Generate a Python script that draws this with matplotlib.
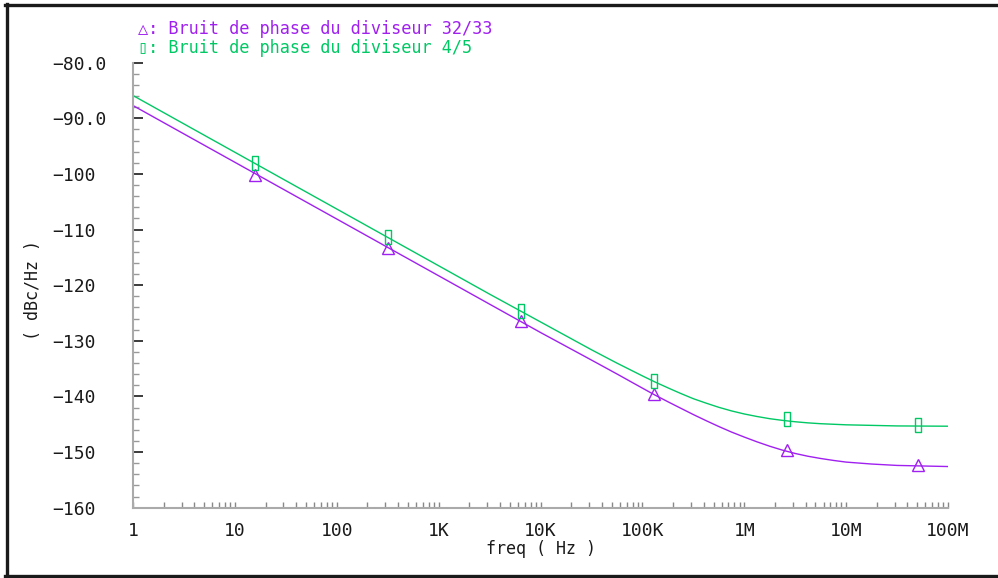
"""Phase noise of the 32/33 and 4/5 dividers, Cadence-style plot."""
import matplotlib
matplotlib.use("Agg")
import matplotlib.pyplot as plt
from matplotlib.lines import Line2D
from matplotlib.ticker import FixedLocator, LogLocator, NullFormatter

plt.rcParams["font.family"] = ["DejaVu Sans Mono", "DejaVu Sans"]

# curve samples (Hz, dBc/Hz)
freq = [1, 3.16, 10, 31.6, 100, 316, 1e3, 3.16e3, 1e4, 3.16e4, 5.62e4, 1e5,
        1.33e5, 1.78e5, 2.37e5, 3.16e5, 4.22e5, 5.62e5, 7.5e5, 1e6, 1.33e6,
        1.78e6, 2.37e6, 3.16e6, 4.22e6, 5.62e6, 7.5e6, 1e7, 1.78e7, 3.16e7, 1e8]
noise_3233 = [-87.7, -92.8, -97.9, -103.0, -108.1, -113.2, -118.3, -123.4, -128.5,
              -133.45, -135.95, -138.5, -139.75, -140.95, -142.1, -143.25, -144.35,
              -145.4, -146.4, -147.3, -148.15, -148.95, -149.65, -150.25, -150.75,
              -151.15, -151.5, -151.8, -152.15, -152.4, -152.6]
noise_45 = [-85.9, -91.0, -96.1, -101.2, -106.3, -111.4, -116.5, -121.6, -126.6,
            -131.6, -134.0, -136.3, -137.4, -138.45, -139.45, -140.4, -141.2,
            -141.95, -142.6, -143.15, -143.6, -144.0, -144.3, -144.55, -144.75,
            -144.9, -145.0, -145.1, -145.2, -145.3, -145.35]

# marker positions
mark_freq = [15.8, 318, 6.4e3, 1.3e5, 2.6e6, 5.1e7]
mark_3233 = [-100.1, -113.3, -126.5, -139.6, -149.7, -152.4]
mark_45 = [-98.1, -111.4, -124.7, -137.2, -144.1, -145.2]

labels = ["Bruit de phase du diviseur 32/33", "Bruit de phase du diviseur 4/5"]
yticks = [-80, -90, -100, -110, -120, -130, -140, -150, -160]
ytick_labels = ["\u221280.0", "\u221290.0", "\u2212100", "\u2212110", "\u2212120",
                "\u2212130", "\u2212140", "\u2212150", "\u2212160"]
xticks = [1, 10, 100, 1e3, 1e4, 1e5, 1e6, 1e7, 1e8]
xtick_labels = ["1", "10", "100", "1K", "10K", "100K", "1M", "10M", "100M"]

purple = "#a020f0"
green = "#00c864"
txt = "#1a1a1a"

fig = plt.figure(figsize=(9.98, 5.78), dpi=100)
ax = fig.add_axes([133 / 998, 70.3 / 578, 815 / 998, 445 / 578])

ax.semilogx(freq, noise_3233, color=purple, lw=1.0)
ax.semilogx(freq, noise_45, color=green, lw=1.0)

rect = [(-0.2, -0.5), (0.2, -0.5), (0.2, 0.5), (-0.2, 0.5), (-0.2, -0.5)]
ax.plot(mark_freq, mark_3233, ls="none", marker="^", ms=9, mfc="none",
        mec=purple, mew=1.0)
ax.plot(mark_freq, mark_45, ls="none", marker=rect, ms=10, mfc="none",
        mec=green, mew=1.0)

ax.set_xlim(1, 1e8)
ax.set_ylim(-160, -80)

for s in ("top", "right"):
    ax.spines[s].set_visible(False)
for s in ("left", "bottom"):
    ax.spines[s].set_color("#aaaaaa")
    ax.spines[s].set_linewidth(1.5)

ax.yaxis.set_major_locator(FixedLocator(yticks))
ax.set_yticklabels(ytick_labels, ha="left")
ax.yaxis.set_minor_locator(FixedLocator(range(-160, -79, 2)))
ax.tick_params(axis="y", which="major", direction="in", length=7, width=1.2,
               color=txt, labelsize=13, labelcolor=txt, pad=58)
ax.tick_params(axis="y", which="minor", direction="in", length=4, width=1.0,
               color="#999999")

ax.xaxis.set_major_locator(FixedLocator(xticks))
ax.set_xticklabels(xtick_labels)
ax.xaxis.set_minor_locator(LogLocator(base=10, subs=range(2, 10), numticks=20))
ax.xaxis.set_minor_formatter(NullFormatter())
ax.tick_params(axis="x", which="both", direction="in", length=4, width=1.0,
               color="#888888", labelsize=13, labelcolor=txt, pad=10)

ax.set_xlabel("freq ( Hz )", fontsize=12, color=txt)
ax.xaxis.set_label_coords(0.5, -0.073)
ax.set_ylabel("( dBc/Hz )", fontsize=12, color=txt)
ax.yaxis.set_label_coords(-0.112, 0.49)

# legend as in the tool: symbol, colon and label in the series colour
fig.text(138 / 998, 1 - 29 / 578, "\u25b3: " + labels[0], color=purple,
         fontsize=12.2, va="center", ha="left")
fig.text(138 / 998, 1 - 48 / 578, "\u25af: " + labels[1], color=green,
         fontsize=12.2, va="center", ha="left")

# window frame
frame = dict(color="#1a1a1a", lw=2.4, transform=fig.transFigure)
fig.add_artist(Line2D([6.5 / 998, 6.5 / 998], [0, 1 - 4 / 578], **frame))
fig.add_artist(Line2D([5 / 998, 1], [1 - 5 / 578, 1 - 5 / 578], **frame))
fig.add_artist(Line2D([5 / 998, 1], [2.5 / 578, 2.5 / 578], **frame))

fig.savefig("out.png", dpi=100)
plt.close(fig)
